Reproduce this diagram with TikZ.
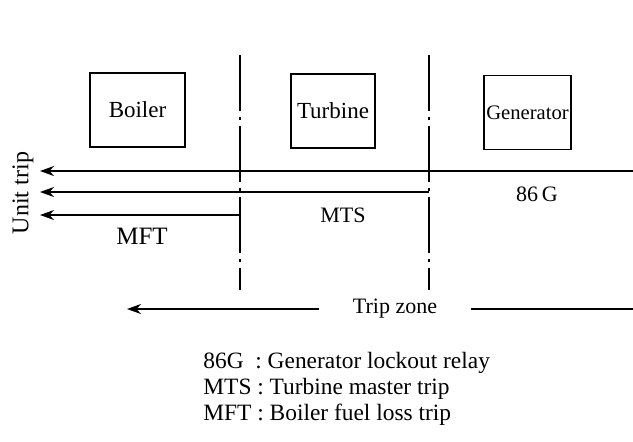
\documentclass[tikz,border=0pt]{standalone}
\usepackage{fontspec}
\setmainfont{Liberation Serif}
\usetikzlibrary{arrows.meta,positioning}

\begin{document}
\begin{tikzpicture}[x=0.5pt, y=-0.5pt,
      unit/.style={draw, line width=0.9pt, font=\fontsize{11.5}{13}\selectfont,
                   minimum height=37pt, inner sep=1pt},
      zone/.style={line width=0.8pt,
                   dash pattern=on 28pt off 3pt on 1.5pt off 3pt},
      trip/.style={-{Stealth[length=7pt, width=5pt]}, line width=0.9pt},
      lbl/.style={font=\fontsize{11}{13}\selectfont, inner sep=1pt},
      legend/.style={font=\fontsize{11.7}{13}\selectfont, anchor=west, inner sep=0pt}]

    \useasboundingbox (0,0) rectangle (633,441);

    % plant units
    \node[unit, minimum width=47.5pt] (boiler)  at (137.5,110) {Boiler};
    \node[unit, minimum width=42pt]   (turbine) at (333,111)   {Turbine};
    \node[unit, minimum width=43.5pt, inner sep=0.5pt, font=\fontsize{10.3}{11}\selectfont]
                                       (gen)     at (527.5,112.5) {Generator};

    % zone borders
    \coordinate (bt) at (240,55);  \coordinate (bb) at (240,290);
    \coordinate (tt) at (429,55);  \coordinate (tb) at (429,290);
    \draw[zone] (bt) -- (bb);
    \draw[zone] (tt) -- (tb);

    % trip signals
    \coordinate (gen86) at (633,171);  \coordinate (ut1) at (40,171);
    \coordinate (mts)   at (429,192);  \coordinate (ut2) at (40,192);
    \coordinate (mft)   at (240,215);  \coordinate (ut3) at (40,215);
    \draw[trip] (gen86) -- (ut1);
    \draw[trip] (mts) -- (ut2);
    \draw[trip] (mft) -- (ut3);

    \node[lbl] (l86) at (537,194) {86\,G};
    \node[lbl] (lmts) at (343,215) {MTS};
    \node[lbl, font=\fontsize{12.5}{14}\selectfont] (lmft) at (142,236) {MFT};
    \node[lbl, rotate=90, font=\fontsize{12}{14}\selectfont] (lut) at (23,193) {Unit trip};

    % trip zone
    \node[lbl, inner xsep=17pt] (tz) at (395,309) {Trip zone};
    \coordinate (tzl) at (127,309);
    \coordinate (tzr) at (633,309);
    \draw[trip] (tz.west) -- (tzl);
    \draw[line width=0.9pt] (tz.east) -- (tzr);

    % legend
    \node[legend] (k1) at (203,363) {86G\ \ : Generator lockout relay};
    \node[legend] (k2) at (203,389) {MTS : Turbine master trip};
    \node[legend] (k3) at (203,415) {MFT : Boiler fuel loss trip};
  \end{tikzpicture}
\end{document}
